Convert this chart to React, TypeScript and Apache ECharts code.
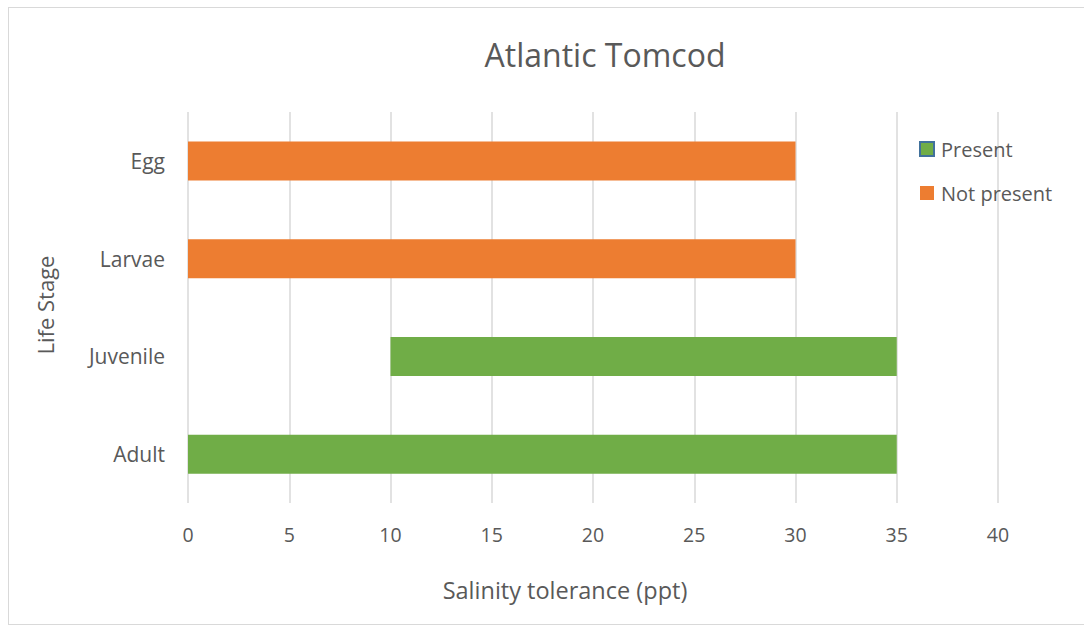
import React, { useEffect, useRef } from "react";
import * as echarts from "echarts";

const categories = ["Adult", "Juvenile", "Larvae", "Egg"];
const rangeStart = [0, 10, 0, 0];
const presentLength: (number | string)[] = [35, 25, "-", "-"];
const notPresentLength: (number | string)[] = ["-", "-", 30, 30];
const xTicks = [0, 5, 10, 15, 20, 25, 30, 35, 40];

const FONT = "'Open Sans', sans-serif";
const TEXT = "#595959";

export default function App() {
  const ref = useRef<HTMLDivElement>(null);
  useEffect(() => {
    if (!ref.current) return;
    const chart = echarts.init(ref.current, undefined, { renderer: "svg" });
    chart.setOption({
      animation: false,
      textStyle: { fontFamily: FONT },
      grid: { left: 179, top: 104, width: 810, height: 391 },
      legend: {
        orient: "vertical",
        left: 905,
        top: 126,
        itemWidth: 14,
        itemHeight: 14,
        itemGap: 24,
        icon: "rect",
        textStyle: { color: TEXT, fontSize: 20, fontFamily: FONT, padding: [0, 0, 0, 2] },
        data: [
          { name: "Present", itemStyle: { color: "#70ad47", borderColor: "#41719c", borderWidth: 2 } },
          { name: "Not present", itemStyle: { color: "#ed7d31" } },
        ],
      },
      xAxis: {
        type: "value",
        min: xTicks[0],
        max: xTicks[xTicks.length - 1],
        interval: 5,
        axisLine: { show: false },
        axisTick: { show: false },
        splitLine: { show: true, lineStyle: { color: "#d9d9d9", width: 1.5 } },
        axisLabel: { color: TEXT, fontSize: 19.5, margin: 21, fontFamily: FONT },
      },
      yAxis: {
        type: "category",
        data: categories,
        axisLine: { show: false },
        axisTick: { show: false },
        axisLabel: { color: TEXT, fontSize: 21, margin: 23, fontFamily: FONT },
      },
      graphic: [
        {
          type: "text",
          x: 596,
          y: 46,
          style: { text: "Atlantic Tomcod", fill: TEXT, fontSize: 32, fontFamily: FONT, textAlign: "center", textVerticalAlign: "middle" },
        },
        {
          type: "text",
          x: 556,
          y: 582,
          style: { text: "Salinity tolerance (ppt)", fill: TEXT, fontSize: 23.5, fontFamily: FONT, textAlign: "center", textVerticalAlign: "middle" },
        },
        {
          type: "text",
          x: 36,
          y: 297,
          rotation: Math.PI / 2,
          style: { text: "Life Stage", fill: TEXT, fontSize: 22, fontFamily: FONT, textAlign: "center", textVerticalAlign: "middle" },
        },
      ],
      series: [
        {
          name: "base",
          type: "bar",
          stack: "a",
          data: rangeStart,
          barWidth: 39,
          itemStyle: { color: "transparent" },
          silent: true,
        },
        {
          name: "Present",
          type: "bar",
          stack: "a",
          data: presentLength,
          barWidth: 39,
          itemStyle: { color: "#70ad47" },
        },
        {
          name: "Not present",
          type: "bar",
          stack: "a",
          data: notPresentLength,
          barWidth: 39,
          itemStyle: { color: "#ed7d31" },
        },
      ],
    });
    return () => chart.dispose();
  }, []);
  return (
    <div
      style={{
        position: "fixed",
        left: 8,
        top: 7,
        width: 1090,
        height: 618,
        borderLeft: "1px solid #d9d9d9",
        borderTop: "1px solid #d9d9d9",
        borderBottom: "1px solid #d9d9d9",
        boxSizing: "border-box",
        background: "#fff",
      }}
    >
      <div ref={ref} style={{ width: 1075, height: 616 }} />
    </div>
  );
}
